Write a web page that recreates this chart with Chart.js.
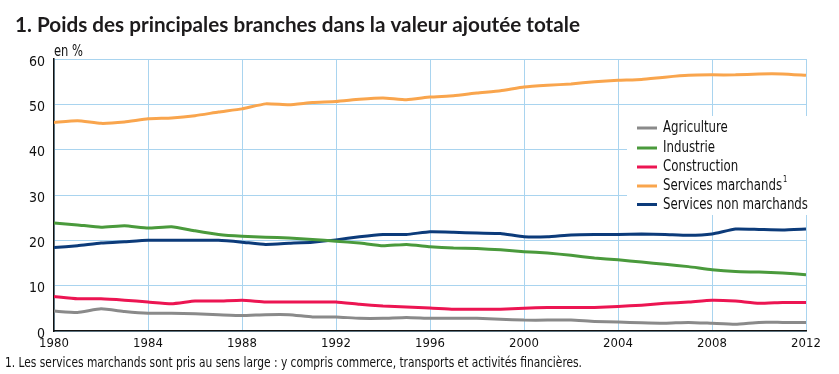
<!DOCTYPE html>
<html>
<head>
<meta charset="utf-8">
<title>Poids des principales branches</title>
<script src="https://cdn.jsdelivr.net/npm/chart.js@4.4.1/dist/chart.umd.min.js"></script>
<style>
  html, body { margin: 0; padding: 0; background: #fff; }
  #wrap { width: 839px; height: 374px; position: relative; }
</style>
</head>
<body>
<div id="wrap"><canvas id="chart" width="839" height="374"></canvas></div>
<script>
// Données (en % de la valeur ajoutée totale)
const years = [1980, 1981, 1982, 1983, 1984, 1985, 1986, 1987, 1988, 1989, 1990,
  1991, 1992, 1993, 1994, 1995, 1996, 1997, 1998, 1999, 2000, 2001, 2002, 2003,
  2004, 2005, 2006, 2007, 2008, 2009, 2010, 2011, 2012];

const agriculture = [4.4, 4.1, 4.9, 4.3, 3.9, 3.9, 3.8, 3.6, 3.4, 3.6, 3.6,
  3.1, 3.1, 2.8, 2.8, 3.0, 2.8, 2.8, 2.8, 2.6, 2.4, 2.4, 2.4, 2.1,
  2.0, 1.8, 1.7, 1.9, 1.7, 1.5, 1.9, 1.9, 1.9];

const industrie = [23.8, 23.4, 22.9, 23.2, 22.7, 23.0, 22.1, 21.3, 20.9, 20.7, 20.5,
  20.2, 19.8, 19.4, 18.8, 19.1, 18.6, 18.3, 18.2, 17.9, 17.5, 17.2, 16.7, 16.1,
  15.7, 15.2, 14.7, 14.2, 13.5, 13.1, 13.0, 12.8, 12.4];

const construction = [7.6, 7.1, 7.1, 6.8, 6.4, 6.0, 6.6, 6.6, 6.8, 6.4, 6.4,
  6.4, 6.4, 5.9, 5.5, 5.3, 5.1, 4.8, 4.8, 4.8, 5.0, 5.2, 5.2, 5.2,
  5.4, 5.7, 6.1, 6.4, 6.8, 6.6, 6.1, 6.3, 6.3];

const servicesMarchands = [46.0, 46.4, 45.8, 46.1, 46.8, 47.0, 47.5, 48.3, 49.0, 50.1, 49.9,
  50.4, 50.6, 51.1, 51.4, 51.0, 51.6, 51.9, 52.5, 53.0, 53.8, 54.2, 54.5, 55.0,
  55.3, 55.5, 56.0, 56.4, 56.5, 56.5, 56.7, 56.7, 56.4];

const servicesNonMarchands = [18.4, 18.8, 19.4, 19.7, 20.0, 20.0, 20.0, 20.0, 19.6, 19.1, 19.35,
  19.6, 20.1, 20.8, 21.3, 21.3, 21.9, 21.8, 21.6, 21.5, 20.8, 20.8, 21.2, 21.3,
  21.3, 21.4, 21.3, 21.1, 21.4, 22.5, 22.4, 22.3, 22.5];

const seriesNames = ['Agriculture', 'Industrie', 'Construction', 'Services marchands', 'Services non marchands'];
const seriesValues = [agriculture, industrie, construction, servicesMarchands, servicesNonMarchands];
const seriesColors = ['#8a8a8a', '#4a9a3c', '#ec1552', '#f9a54d', '#0c3b7a'];

const titleText = '1. Poids des principales branches dans la valeur ajoutée totale';
const unitText = 'en %';
const noteText = '1. Les services marchands sont pris au sens large : y compris commerce, transports et activités financières.';

const narrow = "'Liberation Sans Narrow', 'DejaVu Sans Condensed', 'Arial Narrow', sans-serif";
const gridBlue = '#a9d4ef';

// écrit un texte resserré horizontalement (police étroite simulée)
function drawScaled(ctx, text, x, y, sx) {
  ctx.save();
  ctx.translate(x, y);
  ctx.scale(sx, 1);
  ctx.fillText(text, 0, 0);
  ctx.restore();
}

// titre, unité, note et légende
const decorations = {
  id: 'decorations',
  beforeDatasetsDraw(chart) {
    const ctx = chart.ctx;
    ctx.save();
    // fond blanc de la légende
    ctx.fillStyle = '#fff';
    ctx.fillRect(627, 116, 190, 99);
    ctx.restore();
  },
  afterDraw(chart) {
    const ctx = chart.ctx;
    ctx.save();
    ctx.textBaseline = 'alphabetic';

    // titre
    ctx.fillStyle = '#1d1b1c';
    ctx.font = 'bold 21px Lato, sans-serif';
    drawScaled(ctx, titleText, 15, 32, 565 / ctx.measureText(titleText).width);

    // unité
    ctx.fillStyle = '#111';
    ctx.font = '15px ' + narrow;
    drawScaled(ctx, unitText, 54, 55.5, 29 / ctx.measureText(unitText).width);

    // note
    ctx.font = '14px ' + narrow;
    drawScaled(ctx, noteText, 5, 367, 577 / ctx.measureText(noteText).width);

    // légende
    ctx.textBaseline = 'middle';
    ctx.font = '16px ' + narrow;
    const lsx = 145 / ctx.measureText('Services non marchands').width;
    const rows = [128, 148, 167, 186, 204.5];
    seriesNames.forEach((name, i) => {
      ctx.strokeStyle = seriesColors[i];
      ctx.lineWidth = 3;
      ctx.beginPath();
      ctx.moveTo(637, rows[i]);
      ctx.lineTo(657, rows[i]);
      ctx.stroke();
      ctx.fillStyle = '#111';
      drawScaled(ctx, name, 663, rows[i], lsx);
      if (name === 'Services marchands') {
        const tw = ctx.measureText(name).width * lsx;
        ctx.font = '9px ' + narrow;
        drawScaled(ctx, '1', 663 + tw + 1, rows[i] - 6, lsx);
        ctx.font = '16px ' + narrow;
      }
    });
    ctx.restore();
  }
};

const ctx = document.getElementById('chart').getContext('2d');
new Chart(ctx, {
  type: 'line',
  data: {
    datasets: seriesNames.map((name, i) => ({
      label: name,
      data: years.map((y, k) => ({ x: y, y: seriesValues[i][k] })),
      borderColor: seriesColors[i],
      backgroundColor: seriesColors[i],
      borderWidth: 3,
      pointRadius: 0,
      tension: 0.15,
      fill: false
    }))
  },
  options: {
    responsive: false,
    animation: false,
    devicePixelRatio: 1,
    layout: { padding: { left: 0, right: 33, top: 59, bottom: 0 } },
    plugins: {
      legend: { display: false },
      tooltip: { enabled: false },
      title: { display: false }
    },
    scales: {
      x: {
        type: 'linear',
        min: 1980,
        max: 2012,
        afterFit(scale) { scale.height = 43; },
        ticks: {
          stepSize: 4,
          color: '#111',
          padding: 5,
          maxRotation: 0,
          font: { family: narrow, size: 13 },
          callback: v => String(v)
        },
        grid: {
          color: gridBlue,
          lineWidth: 1,
          tickLength: 0
        },
        border: { color: '#111', width: 1.5 }
      },
      y: {
        min: 0,
        max: 60,
        afterFit(scale) { scale.width = 54; },
        ticks: {
          stepSize: 10,
          color: '#111',
          padding: 9,
          labelOffset: 3,
          font: { family: narrow, size: 14 }
        },
        grid: {
          color: gridBlue,
          lineWidth: 1,
          tickLength: 0
        },
        border: { color: '#111', width: 1.5 }
      }
    }
  },
  plugins: [decorations]
});
</script>
</body>
</html>
